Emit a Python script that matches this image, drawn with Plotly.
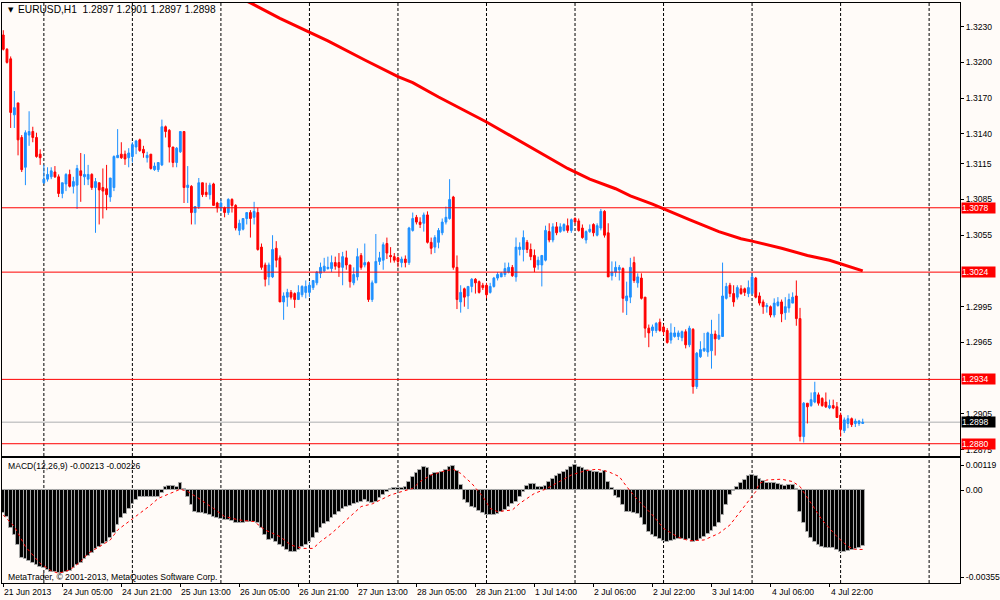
import plotly.graph_objects as go

# EURUSD H1, 21 Jun 2013 13:00 .. 5 Jul 2013 06:00 (234 bars)
opens = [1.3223, 1.3211, 1.3203, 1.3156, 1.3166, 1.3137, 1.3112, 1.3139, 1.3142, 1.3137,
         1.3123, 1.3099, 1.3102, 1.3104, 1.3108, 1.3104, 1.3090, 1.3098, 1.3106, 1.3096,
         1.3097, 1.3109, 1.3104, 1.3102, 1.3106, 1.3095, 1.3099, 1.3095, 1.3094, 1.3087,
         1.3095, 1.3120, 1.3123, 1.3123, 1.3120, 1.3121, 1.3129, 1.3135, 1.3127, 1.3120,
         1.3123, 1.3110, 1.3110, 1.3114, 1.3146, 1.3143, 1.3129, 1.3116, 1.3125, 1.3142,
         1.3095, 1.3096, 1.3074, 1.3079, 1.3099, 1.3091, 1.3089, 1.3098, 1.3082, 1.3078,
         1.3078, 1.3074, 1.3085, 1.3080, 1.3059, 1.3060, 1.3069, 1.3074, 1.3070, 1.3074,
         1.3045, 1.3030, 1.3020, 1.3020, 1.3044, 1.3036, 1.2999, 1.3003, 1.3007, 1.3006,
         1.3001, 1.3005, 1.3007, 1.3007, 1.3011, 1.3015, 1.3023, 1.3025, 1.3027, 1.3027,
         1.3032, 1.3032, 1.3028, 1.3036, 1.3030, 1.3015, 1.3020, 1.3038, 1.3030, 1.3032,
         1.3001, 1.3015, 1.3033, 1.3034, 1.3048, 1.3038, 1.3037, 1.3036, 1.3032, 1.3035,
         1.3032, 1.3059, 1.3070, 1.3066, 1.3065, 1.3072, 1.3049, 1.3045, 1.3049, 1.3057,
         1.3066, 1.3069, 1.3087, 1.3028, 1.2999, 1.3010, 1.3004, 1.3012, 1.3018, 1.3016,
         1.3013, 1.3013, 1.3007, 1.3012, 1.3019, 1.3020, 1.3022, 1.3024, 1.3028, 1.3020,
         1.3043, 1.3043, 1.3049, 1.3043, 1.3038, 1.3030, 1.3030, 1.3034, 1.3058, 1.3051,
         1.3062, 1.3058, 1.3059, 1.3063, 1.3059, 1.3069, 1.3067, 1.3061, 1.3051, 1.3058,
         1.3064, 1.3055, 1.3061, 1.3075, 1.3057, 1.3021, 1.3024, 1.3026, 1.3027, 1.3000,
         1.3003, 1.3032, 1.3015, 1.3019, 1.3003, 1.2977, 1.2975, 1.2975, 1.2982, 1.2978,
         1.2975, 1.2967, 1.2970, 1.2970, 1.2969, 1.2974, 1.2963, 1.2976, 1.2928, 1.2953,
         1.2958, 1.2957, 1.2958, 1.2972, 1.2968, 1.2970, 1.3002, 1.3013, 1.3006, 1.3003,
         1.3010, 1.3010, 1.3006, 1.3006, 1.3019, 1.3004, 1.2999, 1.2995, 1.2995, 1.2988,
         1.2996, 1.2999, 1.2990, 1.2994, 1.2998, 1.3004, 1.2985, 1.2886, 1.2914, 1.2912,
         1.2915, 1.2921, 1.2918, 1.2915, 1.2910, 1.2912, 1.2911, 1.2904, 1.2891, 1.2897,
         1.2901, 1.2897, 1.2897, 1.2897]
highs = [1.3227, 1.3212, 1.3205, 1.3176, 1.3166, 1.3139, 1.3143, 1.3159, 1.3146, 1.3141,
         1.3127, 1.3114, 1.3112, 1.3112, 1.3113, 1.3106, 1.3099, 1.3107, 1.3110, 1.3104,
         1.3114, 1.3124, 1.3123, 1.3114, 1.3107, 1.3103, 1.3099, 1.3111, 1.3114, 1.3103,
         1.3122, 1.3144, 1.3133, 1.3126, 1.3128, 1.3133, 1.3135, 1.3136, 1.3130, 1.3125,
         1.3123, 1.3116, 1.3116, 1.3152, 1.3147, 1.3144, 1.3129, 1.3129, 1.3142, 1.3142,
         1.3113, 1.3097, 1.3079, 1.3103, 1.3099, 1.3099, 1.3099, 1.3099, 1.3083, 1.3085,
         1.3079, 1.3086, 1.3086, 1.3081, 1.3068, 1.3069, 1.3074, 1.3076, 1.3083, 1.3078,
         1.3048, 1.3032, 1.3032, 1.3055, 1.3050, 1.3038, 1.3007, 1.3010, 1.3009, 1.3007,
         1.3013, 1.3013, 1.3017, 1.3016, 1.3017, 1.3025, 1.3032, 1.3036, 1.3037, 1.3038,
         1.3037, 1.3040, 1.3041, 1.3042, 1.3030, 1.3028, 1.3044, 1.3040, 1.3048, 1.3033,
         1.3017, 1.3056, 1.3041, 1.3049, 1.3053, 1.3045, 1.3040, 1.3037, 1.3037, 1.3038,
         1.3062, 1.3074, 1.3072, 1.3070, 1.3074, 1.3075, 1.3053, 1.3055, 1.3061, 1.3069,
         1.3079, 1.3102, 1.3088, 1.3038, 1.3013, 1.3011, 1.3012, 1.3019, 1.3019, 1.3017,
         1.3015, 1.3015, 1.3015, 1.3020, 1.3024, 1.3024, 1.3032, 1.3032, 1.3030, 1.3053,
         1.3049, 1.3059, 1.3051, 1.3048, 1.3043, 1.3037, 1.3038, 1.3063, 1.3065, 1.3065,
         1.3066, 1.3065, 1.3065, 1.3069, 1.3069, 1.3070, 1.3069, 1.3064, 1.3059, 1.3064,
         1.3065, 1.3065, 1.3077, 1.3076, 1.3065, 1.3033, 1.3033, 1.3030, 1.3028, 1.3016,
         1.3036, 1.3037, 1.3023, 1.3023, 1.3003, 1.2980, 1.2980, 1.2982, 1.2985, 1.2980,
         1.2977, 1.2981, 1.2978, 1.2975, 1.2975, 1.2976, 1.2979, 1.2977, 1.2957, 1.2966,
         1.2973, 1.2974, 1.2984, 1.2975, 1.2989, 1.3032, 1.3015, 1.3015, 1.3013, 1.3013,
         1.3013, 1.3011, 1.3017, 1.3023, 1.3020, 1.3007, 1.3001, 1.2998, 1.2996, 1.3002,
         1.3003, 1.3001, 1.3003, 1.3006, 1.3007, 1.3017, 1.2994, 1.2915, 1.2914, 1.2923,
         1.2932, 1.2923, 1.2919, 1.2923, 1.2917, 1.2917, 1.2915, 1.2906, 1.2902, 1.2904,
         1.2902, 1.2901, 1.2900, 1.2901]
lows = [1.3210, 1.3199, 1.3145, 1.3145, 1.3122, 1.3108, 1.3097, 1.3130, 1.3133, 1.3120,
        1.3114, 1.3098, 1.3100, 1.3102, 1.3103, 1.3087, 1.3086, 1.3092, 1.3095, 1.3090,
        1.3077, 1.3083, 1.3097, 1.3097, 1.3093, 1.3057, 1.3064, 1.3069, 1.3076, 1.3083,
        1.3092, 1.3120, 1.3119, 1.3114, 1.3112, 1.3116, 1.3123, 1.3125, 1.3120, 1.3116,
        1.3110, 1.3109, 1.3108, 1.3113, 1.3137, 1.3116, 1.3112, 1.3112, 1.3124, 1.3082,
        1.3082, 1.3064, 1.3064, 1.3077, 1.3087, 1.3087, 1.3085, 1.3080, 1.3074, 1.3075,
        1.3070, 1.3072, 1.3074, 1.3059, 1.3055, 1.3059, 1.3064, 1.3053, 1.3064, 1.3042,
        1.3026, 1.3012, 1.3013, 1.3019, 1.3028, 1.2999, 1.2984, 1.2995, 1.3001, 1.2994,
        1.3001, 1.3003, 1.3002, 1.3003, 1.3009, 1.3013, 1.3019, 1.3024, 1.3026, 1.3024,
        1.3026, 1.3020, 1.3013, 1.3026, 1.3011, 1.3013, 1.3017, 1.3026, 1.3028, 1.2999,
        1.2999, 1.3015, 1.3030, 1.3026, 1.3035, 1.3032, 1.3032, 1.3028, 1.3028, 1.3028,
        1.3030, 1.3058, 1.3064, 1.3061, 1.3058, 1.3048, 1.3039, 1.3040, 1.3044, 1.3055,
        1.3064, 1.3068, 1.3026, 1.2993, 1.2990, 1.2995, 1.2993, 1.3007, 1.3006, 1.3006,
        1.3009, 1.3002, 1.3006, 1.3011, 1.3017, 1.3020, 1.3020, 1.3023, 1.3020, 1.3016,
        1.3038, 1.3033, 1.3040, 1.3034, 1.3024, 1.3026, 1.3012, 1.3033, 1.3049, 1.3049,
        1.3055, 1.3057, 1.3058, 1.3057, 1.3057, 1.3065, 1.3058, 1.3052, 1.3048, 1.3057,
        1.3054, 1.3054, 1.3059, 1.3053, 1.3020, 1.3017, 1.3020, 1.3017, 1.2990, 1.2988,
        1.2998, 1.3015, 1.3011, 1.3001, 1.2969, 1.2961, 1.2970, 1.2973, 1.2974, 1.2971,
        1.2964, 1.2964, 1.2969, 1.2967, 1.2966, 1.2960, 1.2961, 1.2922, 1.2926, 1.2952,
        1.2957, 1.2953, 1.2943, 1.2954, 1.2967, 1.2970, 1.3001, 1.3003, 1.2995, 1.3001,
        1.3005, 1.3004, 1.3003, 1.3005, 1.3002, 1.2996, 1.2989, 1.2990, 1.2986, 1.2986,
        1.2995, 1.2982, 1.2984, 1.2990, 1.2998, 1.2979, 1.2882, 1.2881, 1.2897, 1.2911,
        1.2914, 1.2912, 1.2911, 1.2910, 1.2909, 1.2909, 1.2902, 1.2886, 1.2889, 1.2893,
        1.2894, 1.2894, 1.2895, 1.2897]
closes = [1.3211, 1.3200, 1.3158, 1.3162, 1.3135, 1.3110, 1.3141, 1.3142, 1.3137, 1.3121,
          1.3120, 1.3102, 1.3106, 1.3109, 1.3104, 1.3090, 1.3099, 1.3106, 1.3096, 1.3100,
          1.3111, 1.3105, 1.3106, 1.3106, 1.3095, 1.3100, 1.3093, 1.3092, 1.3089, 1.3103,
          1.3121, 1.3122, 1.3120, 1.3119, 1.3124, 1.3131, 1.3134, 1.3126, 1.3124, 1.3122,
          1.3111, 1.3113, 1.3116, 1.3146, 1.3142, 1.3129, 1.3116, 1.3128, 1.3142, 1.3095,
          1.3097, 1.3074, 1.3079, 1.3099, 1.3089, 1.3089, 1.3097, 1.3080, 1.3078, 1.3082,
          1.3074, 1.3085, 1.3080, 1.3061, 1.3065, 1.3069, 1.3074, 1.3069, 1.3075, 1.3043,
          1.3028, 1.3018, 1.3030, 1.3043, 1.3034, 1.2999, 1.3004, 1.3007, 1.3003, 1.3001,
          1.3007, 1.3012, 1.3012, 1.3013, 1.3017, 1.3024, 1.3028, 1.3029, 1.3028, 1.3032,
          1.3029, 1.3028, 1.3037, 1.3030, 1.3016, 1.3022, 1.3037, 1.3028, 1.3032, 1.3001,
          1.3015, 1.3033, 1.3036, 1.3047, 1.3040, 1.3037, 1.3034, 1.3033, 1.3035, 1.3032,
          1.3061, 1.3069, 1.3066, 1.3064, 1.3072, 1.3049, 1.3044, 1.3053, 1.3059, 1.3066,
          1.3070, 1.3085, 1.3028, 1.3001, 1.3007, 1.3003, 1.3012, 1.3018, 1.3015, 1.3007,
          1.3011, 1.3005, 1.3012, 1.3019, 1.3022, 1.3023, 1.3027, 1.3028, 1.3021, 1.3045,
          1.3045, 1.3053, 1.3043, 1.3037, 1.3028, 1.3034, 1.3038, 1.3059, 1.3051, 1.3062,
          1.3057, 1.3062, 1.3064, 1.3059, 1.3068, 1.3066, 1.3059, 1.3053, 1.3058, 1.3060,
          1.3057, 1.3063, 1.3075, 1.3055, 1.3020, 1.3024, 1.3028, 1.3028, 1.3002, 1.3004,
          1.3028, 1.3017, 1.3020, 1.3002, 1.2977, 1.2973, 1.2978, 1.2981, 1.2975, 1.2974,
          1.2965, 1.2973, 1.2973, 1.2973, 1.2974, 1.2963, 1.2977, 1.2928, 1.2956, 1.2959,
          1.2960, 1.2973, 1.2972, 1.2968, 1.2971, 1.3004, 1.3012, 1.3006, 1.2999, 1.3011,
          1.3006, 1.3007, 1.3011, 1.3020, 1.3003, 1.2998, 1.2995, 1.2996, 1.2988, 1.2998,
          1.2999, 1.2989, 1.2995, 1.3001, 1.3003, 1.2985, 1.2886, 1.2914, 1.2911, 1.2917,
          1.2923, 1.2914, 1.2912, 1.2911, 1.2912, 1.2910, 1.2902, 1.2892, 1.2900, 1.2901,
          1.2896, 1.2899, 1.2899, 1.2898]

# moving average (read at a few bars)
ma_bars = [60, 67, 75, 83, 88, 98, 107, 111, 118, 131, 143, 153, 159, 166, 170, 176,
           186, 194, 200, 203, 211, 218, 224, 228, 233]
ma_vals = [1.3260, 1.3250, 1.3237, 1.3225, 1.3218, 1.3202, 1.3188, 1.3183, 1.3171, 1.3150,
           1.3129, 1.3111, 1.3102, 1.3094, 1.3088, 1.3081, 1.3068, 1.3058, 1.3052, 1.3050,
           1.3044, 1.3038, 1.3034, 1.3030, 1.3025]

# MACD(12,26,9) histogram, one value per bar
macd = [-0.00089, -0.00101, -0.00146, -0.00171, -0.00209, -0.00260, -0.00264, -0.00269, -0.00276, -0.00285,
        -0.00292, -0.00298, -0.00304, -0.00311, -0.00313, -0.00314, -0.00314, -0.00313, -0.00307, -0.00298,
        -0.00285, -0.00276, -0.00264, -0.00251, -0.00238, -0.00226, -0.00215, -0.00207, -0.00196, -0.00184,
        -0.00165, -0.00133, -0.00108, -0.00091, -0.00074, -0.00054, -0.00038, -0.00028, -0.00025, -0.00025,
        -0.00028, -0.00025, -0.00025, -0.00010, 0.00013, 0.00015, 0.00015, 0.00010, 0.00025, 0.00003,
        -0.00025, -0.00057, -0.00082, -0.00086, -0.00089, -0.00091, -0.00095, -0.00101, -0.00108, -0.00110,
        -0.00114, -0.00114, -0.00117, -0.00124, -0.00127, -0.00124, -0.00120, -0.00120, -0.00120, -0.00124,
        -0.00146, -0.00171, -0.00190, -0.00188, -0.00196, -0.00209, -0.00215, -0.00228, -0.00234, -0.00234,
        -0.00228, -0.00215, -0.00209, -0.00196, -0.00184, -0.00165, -0.00146, -0.00129, -0.00120, -0.00108,
        -0.00095, -0.00082, -0.00074, -0.00063, -0.00061, -0.00053, -0.00048, -0.00044, -0.00038, -0.00044,
        -0.00051, -0.00044, -0.00032, -0.00019, -0.00006, 0.00003, 0.00006, 0.00006, 0.00006, 0.00010,
        0.00032, 0.00051, 0.00066, 0.00076, 0.00089, 0.00082, 0.00057, 0.00063, 0.00066, 0.00070,
        0.00076, 0.00086, 0.00091, 0.00074, 0.00019, -0.00038, -0.00051, -0.00063, -0.00070, -0.00079,
        -0.00089, -0.00095, -0.00095, -0.00095, -0.00091, -0.00085, -0.00076, -0.00063, -0.00053, -0.00044,
        -0.00025, -0.00006, 0.00015, 0.00022, 0.00022, 0.00013, 0.00013, 0.00015, 0.00029, 0.00041,
        0.00053, 0.00061, 0.00067, 0.00076, 0.00086, 0.00095, 0.00089, 0.00082, 0.00076, 0.00074,
        0.00070, 0.00067, 0.00066, 0.00072, 0.00032, 0.00006, -0.00023, -0.00032, -0.00057, -0.00082,
        -0.00082, -0.00086, -0.00091, -0.00108, -0.00133, -0.00158, -0.00171, -0.00180, -0.00188, -0.00193,
        -0.00196, -0.00193, -0.00190, -0.00188, -0.00188, -0.00190, -0.00188, -0.00196, -0.00193, -0.00188,
        -0.00180, -0.00167, -0.00155, -0.00139, -0.00124, -0.00095, -0.00057, -0.00019, -0.00003, 0.00013,
        0.00025, 0.00038, 0.00053, 0.00057, 0.00054, 0.00041, 0.00035, 0.00025, 0.00025, 0.00025,
        0.00023, 0.00018, 0.00016, 0.00019, 0.00018, 0.00005, -0.00082, -0.00127, -0.00158, -0.00184,
        -0.00196, -0.00209, -0.00215, -0.00222, -0.00222, -0.00222, -0.00228, -0.00234, -0.00234, -0.00231,
        -0.00228, -0.00226, -0.00219, -0.00213]

# signal line (read at a few bars)
sig_bars = [0, 3, 6, 10, 13, 15, 18, 21, 23, 26, 29, 31, 34, 37, 40, 42, 45, 48, 50, 53,
            57, 60, 64, 68, 71, 75, 78, 81, 84, 86, 89, 92, 95, 97, 100, 103, 105, 108, 111, 113,
            116, 119, 122, 124, 127, 130, 132, 134, 138, 140, 144, 147, 150, 154, 158, 161, 164, 167, 169, 172,
            176, 179, 183, 186, 190, 194, 197, 201, 204, 205, 207, 211, 214, 216, 219, 222, 226, 229, 231, 233]
sig_vals = [-0.00095, -0.00139, -0.00215, -0.00279, -0.00307, -0.00317, -0.00304, -0.00272, -0.00241, -0.00215,
            -0.00190, -0.00152, -0.00120, -0.00089, -0.00057, -0.00032, -0.00013, 0.00003, -0.00006, -0.00032,
            -0.00070, -0.00101, -0.00114, -0.00120, -0.00152, -0.00177, -0.00209, -0.00222, -0.00222, -0.00196,
            -0.00165, -0.00127, -0.00089, -0.00063, -0.00053, -0.00032, -0.00019, -0.00006, 0.00006, 0.00032,
            0.00057, 0.00070, 0.00079, 0.00063, 0.00025, -0.00025, -0.00070, -0.00082, -0.00076, -0.00051,
            -0.00013, 0.00003, 0.00025, 0.00057, 0.00074, 0.00079, 0.00070, 0.00051, 0.00013, -0.00038,
            -0.00095, -0.00146, -0.00180, -0.00193, -0.00190, -0.00165, -0.00133, -0.00063, -0.00006, 0.00025,
            0.00038, 0.00041, 0.00032, 0.00013, -0.00051, -0.00114, -0.00177, -0.00215, -0.00226, -0.00226]

levels = [1.3078, 1.3024, 1.2934, 1.2880]
bid = 1.2898

# axis labels; the ones at 1.3025 and 1.2935 sit under the level boxes and are not visible
price_ticks = [1.3230, 1.3200, 1.3170, 1.3140, 1.3115, 1.3085, 1.3055,
               1.2995, 1.2965, 1.2905, 1.2875]

date_bars = [0, 16, 32, 48, 64, 80, 96, 112, 128, 144, 160, 176, 192, 208, 224]
date_labels = ["21 Jun 2013", "24 Jun 05:00", "24 Jun 21:00", "25 Jun 13:00", "26 Jun 05:00",
               "26 Jun 21:00", "27 Jun 13:00", "28 Jun 05:00", "28 Jun 21:00", "1 Jul 14:00",
               "2 Jul 06:00", "2 Jul 22:00", "3 Jul 14:00", "4 Jul 06:00", "4 Jul 22:00"]

bars = list(range(len(closes)))
FONT = "Liberation Sans, Arial, sans-serif"
FS = 8.6
BG = "#FFFBF8"

fig = go.Figure()

fig.add_trace(go.Candlestick(
    x=bars, open=opens, high=highs, low=lows, close=closes,
    increasing=dict(line=dict(color="#1E90FF", width=1), fillcolor="#1E90FF"),
    decreasing=dict(line=dict(color="#FF0000", width=1), fillcolor="#FF0000"),
    whiskerwidth=0, hoverinfo="none", showlegend=False,
    xaxis="x", yaxis="y"
))

fig.add_trace(go.Scatter(
    x=ma_bars, y=ma_vals, mode="lines",
    line=dict(color="#FF0000", width=3),
    hoverinfo="none", showlegend=False, xaxis="x", yaxis="y"
))

fig.add_trace(go.Bar(
    x=bars, y=macd, marker=dict(color="#000000", line=dict(width=1.0, color="#A8A8A8")),
    hoverinfo="none", showlegend=False, xaxis="x2", yaxis="y2"
))

fig.add_trace(go.Scatter(
    x=sig_bars, y=sig_vals, mode="lines",
    line=dict(color="#FF0000", width=1, dash="dot"),
    hoverinfo="none", showlegend=False, xaxis="x2", yaxis="y2"
))

shapes = []
# dashed vertical grid, one per day
for b in range(11, 260, 24):
    for xr, yr in [("x", "y domain"), ("x2", "y2 domain")]:
        shapes.append(dict(type="line", xref=xr, yref=yr,
                           x0=b, x1=b, y0=0, y1=1, layer="below",
                           line=dict(color="#000000", width=1, dash="3px,2px")))
shapes.append(dict(type="line", xref="paper", yref="y", x0=0.002, x1=0.963, y0=bid, y1=bid,
                   layer="below", line=dict(color="#C8C8C8", width=1.5)))
for lv in levels:
    shapes.append(dict(type="line", xref="paper", yref="y", x0=0.002, x1=0.963, y0=lv, y1=lv,
                       layer="above", line=dict(color="#FF0000", width=1)))

annotations = []
for lv in levels:
    annotations.append(dict(x=0.964, y=lv, xref="paper", yref="y", xanchor="left", yanchor="middle",
                            text=f"{lv:.4f}", showarrow=False, bgcolor="#FF0000",
                            font=dict(family=FONT, size=FS, color="white"),
                            width=33, height=10, borderpad=0, align="left"))
annotations.append(dict(x=0.964, y=bid, xref="paper", yref="y", xanchor="left", yanchor="middle",
                        text=f"{bid:.4f}", showarrow=False, bgcolor="#000000",
                        font=dict(family=FONT, size=FS, color="white"),
                        width=33, height=10, borderpad=0, align="left"))
for b, lab in zip(date_bars, date_labels):
    annotations.append(dict(x=b, y=0.0135, xref="x2", yref="paper", xanchor="left", yanchor="middle",
                            text=lab, showarrow=False, xshift=-1,
                            font=dict(family=FONT, size=FS, color="black")))
annotations.append(dict(x=0.006, y=0.984, xref="paper", yref="paper", xanchor="left", yanchor="middle",
                        text="▼", showarrow=False, font=dict(family="DejaVu Sans", size=7, color="black")))
annotations.append(dict(x=0.0165, y=0.984, xref="paper", yref="paper", xanchor="left", yanchor="middle",
                        text="EURUSD,H1\u00a0\u00a01.2897 1.2901 1.2897 1.2898", showarrow=False,
                        font=dict(family=FONT, size=10.2, color="black")))
annotations.append(dict(x=0.006, y=0.2235, xref="paper", yref="paper", xanchor="left", yanchor="middle",
                        text="MACD(12,26,9) -0.00213 -0.00226", showarrow=False,
                        font=dict(family=FONT, size=FS, color="black")))
annotations.append(dict(x=0.006, y=0.039, xref="paper", yref="paper", xanchor="left", yanchor="middle",
                        text="MetaTrader, © 2001-2013, MetaQuotes Software Corp.", showarrow=False,
                        font=dict(family=FONT, size=FS, color="black")))

axis_common = dict(showgrid=False, zeroline=False, showline=True, mirror=True,
                   linecolor="#000000", linewidth=1)

fig.update_layout(
    width=1000, height=600,
    margin=dict(l=0, r=0, t=0, b=0),
    paper_bgcolor=BG, plot_bgcolor=BG,
    bargap=0,
    font=dict(family=FONT, size=FS, color="black"),
    xaxis=dict(domain=[0.002, 0.963], range=[-0.35, 259.4], anchor="y",
               showticklabels=False, ticks="", rangeslider=dict(visible=False), **axis_common),
    yaxis=dict(domain=[0.24, 0.9955], range=[1.28697, 1.32501], anchor="x", side="right",
               tickvals=price_ticks, ticktext=[f"{v:.4f}" for v in price_ticks],
               ticks="outside", ticklen=3, tickcolor="#000000",
               tickfont=dict(family=FONT, size=FS, color="black"), **axis_common),
    xaxis2=dict(domain=[0.002, 0.963], range=[-0.35, 259.4], anchor="y2", matches="x",
                tickvals=date_bars, showticklabels=False, ticks="outside", ticklen=3,
                tickcolor="#000000", **axis_common),
    yaxis2=dict(domain=[0.0283, 0.2367], range=[-0.003536, 0.001217], anchor="x2", side="right",
                tickvals=[0.00095, 0.0, -0.00331], ticktext=["0.00119", "0.00", "-0.00355"],
                ticks="outside", ticklen=3, tickcolor="#000000",
                tickfont=dict(family=FONT, size=FS, color="black"), **axis_common),
    shapes=shapes,
    annotations=annotations,
)

# the page has a default body margin; drop it so the chart fills the window exactly
fig.write_html("out.html", config={"displayModeBar": False},
               post_script="document.body.style.margin='0';document.body.style.overflow='hidden';")
